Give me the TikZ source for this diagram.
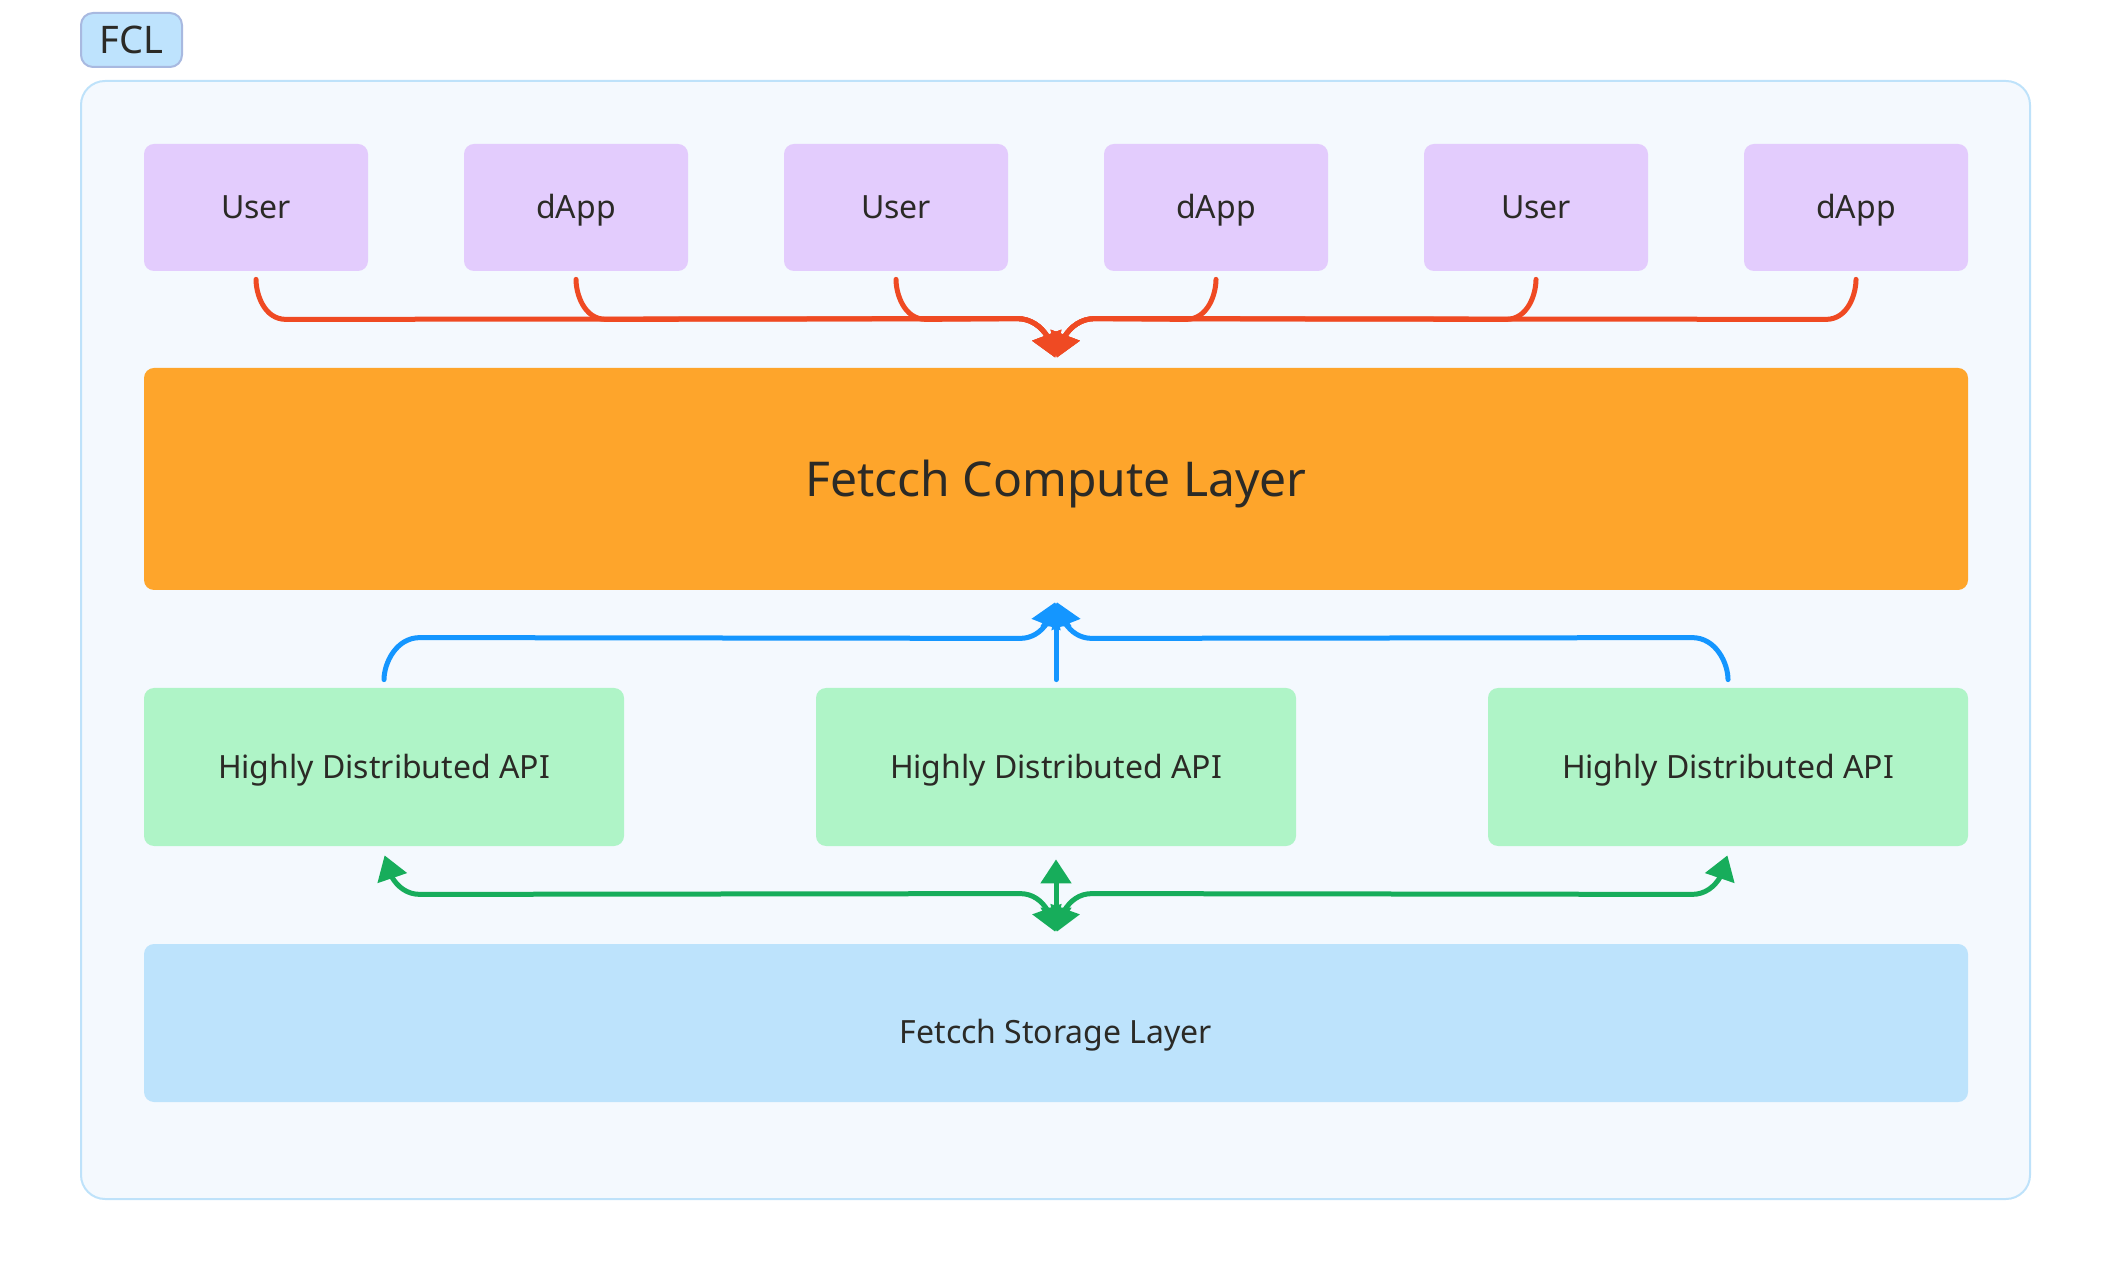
\documentclass[tikz,border=0pt]{standalone}
\usepackage{fontspec}
\setmainfont{Noto Sans}
\usetikzlibrary{arrows.meta,bending}

\definecolor{txt}{HTML}{2B2A26}
\definecolor{framefill}{HTML}{F4F9FE}
\definecolor{framedraw}{HTML}{BEE2FA}
\definecolor{tagfill}{HTML}{BEE3FD}
\definecolor{tagdraw}{HTML}{A8B9E0}
\definecolor{clientfill}{HTML}{E3CCFD}
\definecolor{computefill}{HTML}{FEA52B}
\definecolor{apifill}{HTML}{AFF4C7}
\definecolor{storagefill}{HTML}{BDE3FC}
\definecolor{redline}{HTML}{EF4A23}
\definecolor{blueline}{HTML}{1496FF}
\definecolor{greenline}{HTML}{17AD5B}

\begin{document}
\begin{tikzpicture}[x=0.5pt,y=0.5pt]
  \useasboundingbox (0,0) rectangle (2112,1280);
  \node[rectangle,rounded corners=12pt,fill=framefill,draw=framedraw,line width=1pt,minimum width=974.5pt,minimum height=559pt] (frame) at (1055.5,640) {};
  \node[rectangle,rounded corners=6pt,fill=tagfill,draw=tagdraw,line width=1pt,inner sep=0pt,text height=13.6pt,text depth=0pt,minimum width=50.5pt,minimum height=27pt,text=txt,font=\fontsize{19}{23}\selectfont] (tag) at (131.5,1240) {FCL};

  \begin{scope}[every node/.style={rectangle,rounded corners=5pt,inner sep=0pt,text height=11.4pt,text depth=0pt,text=txt,font=\fontsize{16}{19}\selectfont}]
    \node[fill=clientfill,minimum width=112pt,minimum height=63.5pt] (u1) at (256,1072.5) {User};
    \node[fill=clientfill,minimum width=112pt,minimum height=63.5pt] (u2) at (576,1072.5) {dApp};
    \node[fill=clientfill,minimum width=112pt,minimum height=63.5pt] (u3) at (896,1072.5) {User};
    \node[fill=clientfill,minimum width=112pt,minimum height=63.5pt] (u4) at (1216,1072.5) {dApp};
    \node[fill=clientfill,minimum width=112pt,minimum height=63.5pt] (u5) at (1536,1072.5) {User};
    \node[fill=clientfill,minimum width=112pt,minimum height=63.5pt] (u6) at (1856,1072.5) {dApp};
    \node[fill=computefill,minimum width=912pt,minimum height=111pt,text height=17.1pt,font=\fontsize{24}{29}\selectfont] (compute) at (1056,801) {Fetcch Compute Layer};
    \node[fill=apifill,minimum width=240pt,minimum height=79pt] (a1) at (384,513) {Highly Distributed API};
    \node[fill=apifill,minimum width=240pt,minimum height=79pt] (a2) at (1056,513) {Highly Distributed API};
    \node[fill=apifill,minimum width=240pt,minimum height=79pt] (a3) at (1728,513) {Highly Distributed API};
    \node[fill=storagefill,minimum width=912pt,minimum height=79pt,text height=20.4pt] (storage) at (1056,257) {Fetcch Storage Layer};
  \end{scope}

  \coordinate (rl) at ([shift={(-19.5pt,24.5pt)}]compute.north);
  \coordinate (rr) at ([shift={(19.5pt,24.5pt)}]compute.north);
  \coordinate (bl) at ([shift={(-18pt,-24pt)}]compute.south);
  \coordinate (br) at ([shift={(18pt,-24pt)}]compute.south);
  \coordinate (gl) at ([shift={(-18pt,25pt)}]storage.north);
  \coordinate (gr) at ([shift={(18pt,25pt)}]storage.north);

  \begin{scope}[>={Triangle[length=12pt,width=15pt]},line width=2.5pt,line cap=round]
    % users and dApps into the compute layer
    \draw[redline,->,shorten <=4pt,shorten >=5pt] (u1.south) to[out=-90,in=180] ++(15pt,-24pt) -- (rl) to[out=0,in=90] (compute.north);
    \draw[redline,->,shorten <=4pt,shorten >=5pt] (u2.south) to[out=-90,in=180] ++(15pt,-24pt) -- (rl) to[out=0,in=90] (compute.north);
    \draw[redline,->,shorten <=4pt,shorten >=5pt] (u3.south) to[out=-90,in=180] ++(15pt,-24pt) -- (rl) to[out=0,in=90] (compute.north);
    \draw[redline,->,shorten <=4pt,shorten >=5pt] (u4.south) to[out=-90,in=0] ++(-15pt,-24pt) -- (rr) to[out=180,in=90] (compute.north);
    \draw[redline,->,shorten <=4pt,shorten >=5pt] (u5.south) to[out=-90,in=0] ++(-15pt,-24pt) -- (rr) to[out=180,in=90] (compute.north);
    \draw[redline,->,shorten <=4pt,shorten >=5pt] (u6.south) to[out=-90,in=0] ++(-15pt,-24pt) -- (rr) to[out=180,in=90] (compute.north);
    % APIs up to the compute layer
    \draw[blueline,->,shorten <=4pt,shorten >=6pt] (a1.north) to[out=90,in=180] ++(18pt,25pt) -- (bl) to[out=0,in=-90] (compute.south);
    \draw[blueline,->,shorten <=4pt,shorten >=6pt] (a2.north) -- (compute.south);
    \draw[blueline,->,shorten <=4pt,shorten >=6pt] (a3.north) to[out=90,in=0] ++(-18pt,25pt) -- (br) to[out=180,in=-90] (compute.south);
    % APIs and storage
    \draw[greenline,<->,shorten <=4.5pt,shorten >=6pt] (a1.south) to[out=-90,in=180] ++(18pt,-24pt) -- (gl) to[out=0,in=90] (storage.north);
    \draw[greenline,<->,shorten <=6.5pt,shorten >=6pt] (a2.south) -- (storage.north);
    \draw[greenline,<->,shorten <=4.5pt,shorten >=6pt] (a3.south) to[out=-90,in=0] ++(-18pt,-24pt) -- (gr) to[out=180,in=90] (storage.north);
  \end{scope}
\end{tikzpicture}
\end{document}
